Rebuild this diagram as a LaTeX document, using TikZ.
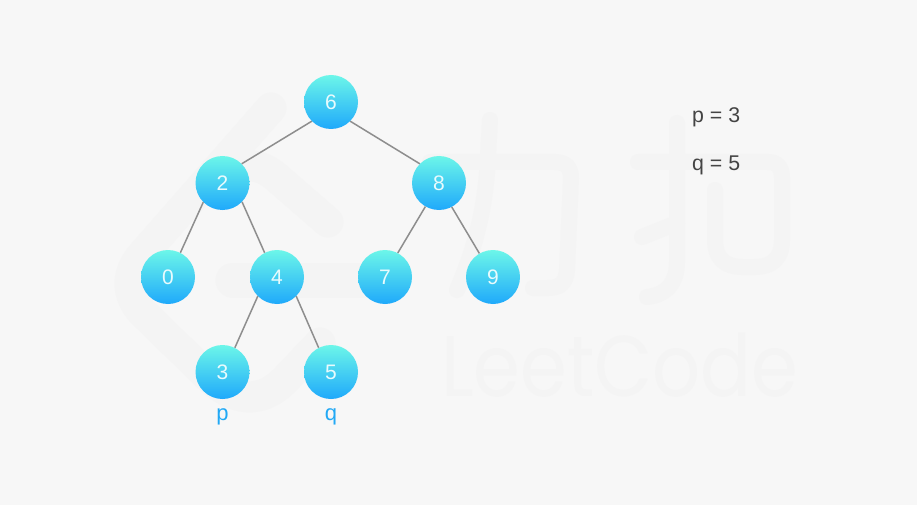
\documentclass[tikz,border=0pt]{standalone}
\usepackage{fontspec}
\setmainfont{Liberation Sans}
\newfontfamily\wmfont[FakeStretch=0.875]{Poppins}
\definecolor{bgc}{HTML}{F7F7F7}
\definecolor{wmc}{HTML}{F4F4F4}
\definecolor{edgec}{HTML}{8E8E8E}
\definecolor{topc}{HTML}{6CF6E9}
\definecolor{botc}{HTML}{1FA9FB}
\definecolor{numc}{HTML}{E9FBFD}
\definecolor{lblc}{HTML}{22A9F5}
\definecolor{txtc}{HTML}{444444}
\tikzset{
  treenode/.style={circle,minimum size=54pt,inner sep=0pt,top color=topc,bottom color=botc,shading angle=0,text=numc,font=\fontsize{21}{24}\selectfont},
  treeedge/.style={draw=edgec,line width=1.5pt},
  ptrlabel/.style={text=lblc,font=\fontsize{22}{24}\selectfont,inner sep=0pt},
  infotext/.style={text=txtc,font=\fontsize{21.3}{24}\selectfont,inner sep=0pt,anchor=base west},
  wm/.style={draw=wmc,line cap=round,line join=round},
  wmthin/.style={wm,line width=16pt},
  wmthick/.style={wm,line width=31pt}
}
\begin{document}
\begin{tikzpicture}[x=1pt,y=-1pt]
\fill[bgc] (0,0) rectangle (917,505);
\useasboundingbox (0,0) rectangle (917,505);
% watermark logo
\draw[wmthick] (271,108) -- (142,255) .. controls (125,275) and (127,295) .. (142,312) -- (212,380) .. controls (240,405) and (265,400) .. (285,380) -- (320,343);
\draw[wmthick] (328,222) -- (275,176) .. controls (255,160) and (240,165) .. (225,180);
\draw[wmthick,line width=35pt] (233,280) -- (370,280);
% watermark characters
\draw[wmthin] (490,120) -- (487,173) .. controls (483,220) and (472,255) .. (457,290);
\draw[wmthin] (430,162) -- (555,162) .. controls (566,162) and (571,168) .. (571,178) -- (567,270) .. controls (566,283) and (560,288) .. (548,288) -- (533,288);
\draw[wmthin] (638,162) -- (768,162) .. controls (778,162) and (782,168) .. (782,178) -- (782,240) .. controls (782,258) and (772,267) .. (755,267) -- (742,267) .. controls (725,267) and (715,258) .. (715,240) -- (715,190);
\draw[wmthin] (677,123) -- (677,262) .. controls (677,282) and (667,295) .. (647,297);
\draw[wmthin] (642,237) -- (677,223);
\node[text=wmc,inner sep=0pt,anchor=base west,font=\wmfont\fontsize{86}{90}\selectfont] (wmtext) at (441,396) {LeetCode};
% tree
\node[treenode] (n6) at (331,102) {6};
\node[treenode] (n2) at (222.5,183) {2};
\node[treenode] (n8) at (439,183) {8};
\node[treenode] (n0) at (168,277) {0};
\node[treenode] (n4) at (277,277) {4};
\node[treenode] (n7) at (385,277) {7};
\node[treenode] (n9) at (493,277) {9};
\node[treenode] (n3) at (222.5,372) {3};
\node[treenode] (n5) at (331,372) {5};
\draw[treeedge] (n6.225) -- (n2.45);
\draw[treeedge] (n6.-45) -- (n8.135);
\draw[treeedge] (n2.225) -- (n0.63);
\draw[treeedge] (n2.-44) -- (n4.117);
\draw[treeedge] (n8.240) -- (n7.62);
\draw[treeedge] (n8.-62) -- (n9.120);
\draw[treeedge] (n4.225) -- (n3.63);
\draw[treeedge] (n4.-45) -- (n5.117);
\node[ptrlabel,anchor=base] (lp) at (222.5,420) {p};
\node[ptrlabel,anchor=base] (lq) at (331,420) {q};
\node[infotext] (tp) at (692,122.5) {p = 3};
\node[infotext] (tq) at (692,170.5) {q = 5};
\end{tikzpicture}
\end{document}
